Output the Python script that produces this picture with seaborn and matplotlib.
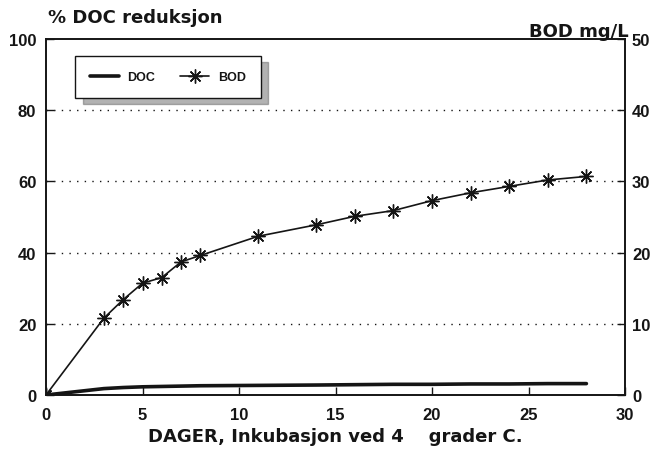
import matplotlib
matplotlib.use("Agg")
import matplotlib.pyplot as plt
import seaborn as sns

# Incubation days and measured series
days = [0, 3, 4, 5, 6, 7, 8, 11, 14, 16, 18, 20, 22, 24, 26, 28]
bod_mg_l = [0, 10.8, 13.4, 15.7, 16.5, 18.7, 19.6, 22.3, 23.9, 25.1, 25.9,
            27.3, 28.4, 29.3, 30.2, 30.7]
doc_reduction = [0, 1.8, 2.1, 2.3, 2.4, 2.5, 2.6, 2.7, 2.8, 2.9, 3.0, 3.0,
                 3.1, 3.1, 3.2, 3.2]

x_ticks = [0, 5, 10, 15, 20, 25, 30]
left_ticks = [0, 20, 40, 60, 80, 100]
right_ticks = [0, 10, 20, 30, 40, 50]
grid_levels = [20, 40, 60, 80]

sns.set_theme(style="ticks")
plt.rcParams["font.family"] = ["Liberation Sans", "DejaVu Sans"]
plt.rcParams["font.weight"] = "bold"
ink = "#151515"
title_font = dict(family=["DejaVu Sans"], size=13, weight="bold")

fig = plt.figure(figsize=(6.6, 4.52), dpi=100)
ax = fig.add_axes([46 / 660, 1 - 396 / 452, 579 / 660, 356 / 452])
ax2 = ax.twinx()

# dotted reference lines at the inner left-axis levels
for lvl in grid_levels:
    ax.axhline(lvl, color=ink, lw=1.0, linestyle=(0, (1, 4.5)), zorder=0)

sns.lineplot(x=days, y=doc_reduction, ax=ax, color=ink, lw=2.6,
             label="DOC", legend=False)
sns.lineplot(x=days, y=bod_mg_l, ax=ax2, color=ink, lw=1.2,
             marker=(8, 2, 0), markersize=10, markeredgewidth=1.0,
             markeredgecolor=ink, label="BOD", legend=False)

ax.set_xlim(0, 30)
ax.set_ylim(0, 100)
ax2.set_ylim(0, 50)
ax.set_xticks(x_ticks)
ax.set_yticks(left_ticks)
ax2.set_yticks(right_ticks)

for a in (ax, ax2):
    for s in a.spines.values():
        s.set_visible(True)
        s.set_color(ink)
        s.set_linewidth(1.2)

ax.tick_params(axis="x", direction="in", length=6, width=1, labelsize=12,
               pad=9, colors=ink)
ax.tick_params(axis="y", direction="in", length=6, width=1, labelsize=12,
               pad=7, colors=ink)
ax2.tick_params(axis="y", direction="in", length=6, width=1, labelsize=12,
                pad=5, colors=ink)
ax.set_ylabel("")
ax2.set_ylabel("")

ax.set_xlabel("DAGER, Inkubasjon ved 4    grader C.", fontdict=title_font,
              color=ink, labelpad=3)
fig.text(48 / 660, 1 - 18 / 452, "% DOC reduksjon", ha="left", va="center",
         fontdict=title_font, color=ink)
fig.text(629 / 660, 1 - 32 / 452, "BOD mg/L", ha="right", va="center",
         fontdict=title_font, color=ink)

h1, l1 = ax.get_legend_handles_labels()
h2, l2 = ax2.get_legend_handles_labels()
leg = ax2.legend(h1 + h2, l1 + l2, loc="upper left",
                 bbox_to_anchor=(0.05, 0.952), borderaxespad=0, ncol=2,
                 fancybox=False, frameon=True, edgecolor=ink,
                 prop={"size": 9, "weight": "bold"}, handlelength=2.3,
                 handletextpad=0.7, columnspacing=2.0, borderpad=1.2,
                 shadow={"ox": 5.5, "oy": -4, "color": "0.4"})
leg.get_frame().set_linewidth(1.0)
leg.get_frame().set_alpha(1)
for t in leg.get_texts():
    t.set_color(ink)

fig.savefig("out.png", dpi=100)
